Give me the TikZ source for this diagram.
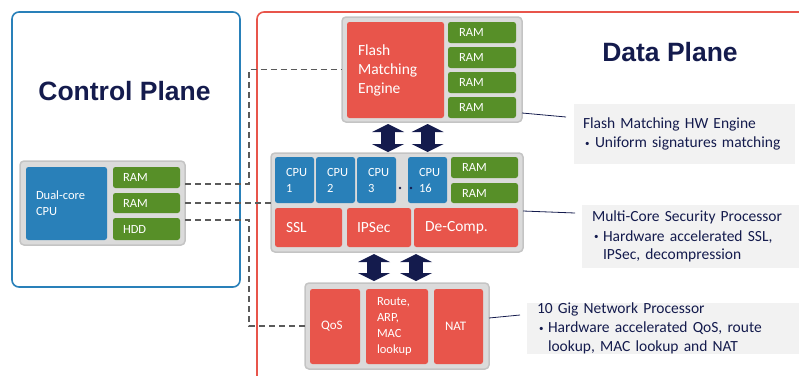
\documentclass[tikz,border=0pt]{standalone}
\usepackage{fontspec}
\setmainfont{Carlito}
\newfontfamily\headfont{Liberation Sans}
\usetikzlibrary{arrows.meta}
\definecolor{cpblue}{RGB}{41,128,185}
\definecolor{hwgreen}{RGB}{87,143,40}
\definecolor{hwred}{RGB}{232,85,75}
\definecolor{grpfill}{RGB}{219,219,219}
\definecolor{grpdraw}{RGB}{196,196,196}
\definecolor{infofill}{RGB}{242,242,242}
\definecolor{navy}{RGB}{20,27,77}
\definecolor{dashgray}{RGB}{90,90,90}
\newcommand{\infobullet}[1]{\makebox[#1][l]{\hspace*{2pt}\raisebox{1.5pt}{\fontsize{9}{9}\selectfont\textbullet}}}
\tikzset{
  plane/.style={line width=1.6pt, rounded corners=7pt, inner sep=0pt, outer sep=0pt, anchor=north west},
  grp/.style={draw=grpdraw, fill=grpfill, line width=1.5pt, rounded corners=4pt, inner sep=0pt, outer sep=0pt, anchor=north west},
  hw/.style={rounded corners=2.5pt, inner ysep=0pt, inner xsep=10pt, outer sep=0pt, anchor=north west, text=white, align=left, font=\fontsize{12.5}{16}\selectfont},
  hwbig/.style={hw, font=\fontsize{15.5}{19}\selectfont},
  info/.style={fill=infofill, inner sep=0pt, inner xsep=9pt, outer sep=0pt, anchor=north west, text=navy, align=left, font=\fontsize{15.5}{18.5}\selectfont},
  dashline/.style={draw=dashgray, line width=1.3pt, dash pattern=on 6pt off 4pt},
  link/.style={draw=navy, line width=0.8pt},
  bigarrow/.style={draw=navy, line width=14pt, {Triangle[width=32pt,length=8pt,line width=0pt]}-{Triangle[width=32pt,length=8pt,line width=0pt]}},
  title/.style={text=navy, font=\headfont\bfseries\fontsize{26.5}{30}\selectfont},
}
\begin{document}
\begin{tikzpicture}[x=1pt,y=-1pt]
  \useasboundingbox (0,0) rectangle (799,375);
  \clip (0,0) rectangle (799,375);
  \node[plane, draw=cpblue, minimum width=228pt, minimum height=275pt] (cplane) at (12,12) {};
  \node[plane, draw=hwred, minimum width=600pt, minimum height=420pt] (dplane) at (257,12) {};
  \node[title] (cptitle) at (124.5,91) {Control Plane};
  \node[title] (dptitle) at (670,52) {Data Plane};

  \node[grp, minimum width=165pt, minimum height=84pt] (cpugrp) at (20,161) {};
  \node[hw, fill=cpblue, text width=61pt, minimum height=73pt] (dualcpu) at (26,167) {Dual-core\\CPU};
  \node[hw, fill=hwgreen, text width=47pt, minimum height=21pt] (cpram1) at (113,167) {RAM};
  \node[hw, fill=hwgreen, text width=47pt, minimum height=20pt] (cpram2) at (113,193) {RAM};
  \node[hw, fill=hwgreen, text width=47pt, minimum height=22pt] (cphdd) at (113,218) {HDD};

  \node[grp, minimum width=180pt, minimum height=105pt] (flashgrp) at (342,17) {};
  \node[hwbig, fill=hwred, text width=75pt, inner xsep=11pt, minimum height=96pt] (fme) at (347,22) {Flash\\Matching\\Engine};
  \foreach \y [count=\i] in {22,47,72,97}
    \node[hw, fill=hwgreen, text width=46pt, inner xsep=11pt, minimum height=21pt] (fram\i) at (448,\y) {RAM};

  \node[grp, minimum width=252pt, minimum height=99pt] (mcgrp) at (271,153) {};
  \foreach \x/\n in {275/1,316/2,357/3,408/16}
    \node[hw, fill=cpblue, text width=17pt, inner xsep=11pt, minimum height=46pt] (cpu\n) at (\x,157) {CPU\\\n};
  \fill[navy] (400,188) circle (1.3);
  \fill[navy] (411,188) circle (1.3);
  \node[hw, fill=hwgreen, text width=45pt, inner xsep=11pt, minimum height=21pt] (mcram1) at (451,157) {RAM};
  \node[hw, fill=hwgreen, text width=45pt, inner xsep=11pt, minimum height=20pt] (mcram2) at (451,183) {RAM};
  \node[hwbig, fill=hwred, text width=45pt, inner xsep=11pt, minimum height=39pt] (ssl) at (275,208) {SSL};
  \node[hwbig, fill=hwred, text width=44pt, minimum height=39pt] (ipsec) at (347,208) {IPSec};
  \node[hwbig, fill=hwred, text width=82pt, inner xsep=11pt, minimum height=39pt] (decomp) at (414,208) {De-Comp.};

  \node[grp, minimum width=184pt, minimum height=86pt] (netgrp) at (305,283) {};
  \node[hw, fill=hwred, text width=28pt, inner xsep=11pt, minimum height=75pt, font=\fontsize{13}{16}\selectfont] (qos) at (310,289) {QoS};
  \node[hw, fill=hwred, text width=40pt, inner xsep=11pt, minimum height=75pt, font=\fontsize{12.5}{16}\selectfont] (route) at (366,289) {Route,\\ARP,\\MAC\\lookup};
  \node[hw, fill=hwred, text width=27pt, inner xsep=11pt, minimum height=75pt, font=\fontsize{13}{16}\selectfont] (nat) at (434,289) {NAT};

  \node[info, text width=203pt, minimum height=60pt] (info1) at (574,104)
    {Flash Matching HW Engine\\[1pt]\infobullet{12pt}Uniform signatures matching};
  \node[info, text width=210pt, inner xsep=10pt, minimum height=63pt] (info2) at (582,205)
    {Multi-Core Security Processor\\[1pt]\infobullet{11pt}Hardware accelerated SSL,\\\hspace*{11pt}IPSec, decompression};
  \node[info, text width=265pt, inner xsep=10pt, minimum height=51pt] (info3) at (527,303)
    {10 Gig Network Processor\\[0.5pt]\infobullet{11pt}Hardware accelerated QoS, route\\\hspace*{11pt}lookup, MAC lookup and NAT};

  \draw[dashline] ([yshift=19pt]cpugrp.east) -- ++(64,0) |- (flashgrp.west);
  \draw[dashline] (cpugrp.east) -- (cpugrp.east -| mcgrp.west);
  \draw[dashline] ([yshift=-17pt]cpugrp.east) -- ++(64,0) |- (netgrp.west);

  \draw[link] ([yshift=-43.5pt]flashgrp.east) -- ([xshift=-8pt,yshift=17pt]info1.west);
  \draw[link] ([yshift=-8.5pt]mcgrp.east) -- ([xshift=-7pt,yshift=23.5pt]info2.west);
  \draw[link] ([yshift=8pt]netgrp.east) -- ([xshift=-7pt,yshift=13.5pt]info3.west);

  \draw[bigarrow] ([xshift=-44pt,yshift=-2pt]flashgrp.south) -- ([xshift=-9pt,yshift=1pt]mcgrp.north);
  \draw[bigarrow] ([xshift=-4.5pt,yshift=-2pt]flashgrp.south) -- ([xshift=30.5pt,yshift=1pt]mcgrp.north);
  \draw[bigarrow] ([xshift=-23pt,yshift=-2pt]mcgrp.south) -- ([xshift=-23pt,yshift=2pt]netgrp.north);
  \draw[bigarrow] ([xshift=19pt,yshift=-2pt]mcgrp.south) -- ([xshift=19pt,yshift=2pt]netgrp.north);
\end{tikzpicture}
\end{document}
